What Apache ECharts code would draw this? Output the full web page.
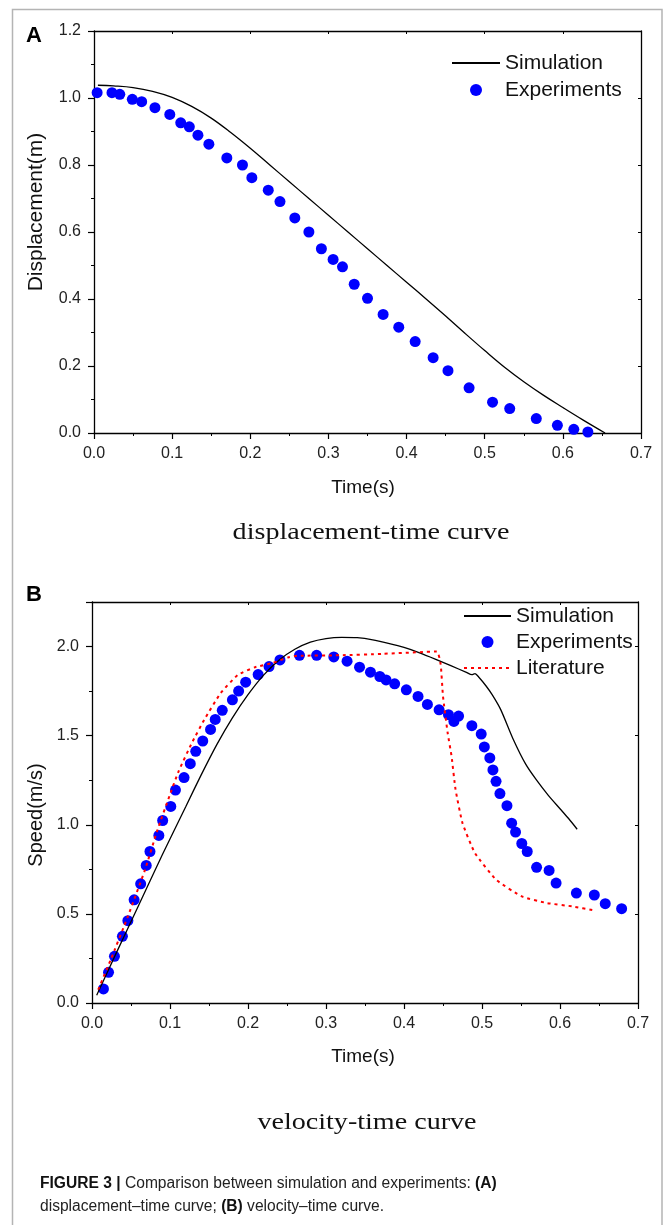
<!DOCTYPE html>
<html><head><meta charset="utf-8">
<script src="https://cdn.jsdelivr.net/npm/echarts@6/dist/echarts.min.js"></script>
<style>html,body{margin:0;padding:0;background:#fff}#c{width:665px;height:1225px}</style>
</head><body><div id="c"></div><script>
// ---------- DATA ----------
// (A) displacement-time
const dispSimTime = [0.005,0.025,0.05,0.075,0.1,0.125,0.15,0.175,0.2,0.225,0.25,0.275,0.3,0.325,0.35,0.375,0.4,0.425,0.45,0.475,0.5,0.525,0.55,0.575,0.6,0.625,0.654];
const dispSim     = [1.038,1.036,1.031,1.02,1.002,0.975,0.94,0.897,0.85,0.80,0.75,0.70,0.65,0.60,0.55,0.50,0.45,0.40,0.349,0.297,0.246,0.197,0.153,0.113,0.076,0.04,0.0];
const dispExpTime = [0.004,0.023,0.033,0.049,0.061,0.078,0.097,0.111,0.122,0.133,0.147,0.170,0.190,0.202,0.223,0.238,0.257,0.275,0.291,0.306,0.318,0.333,0.350,0.370,0.390,0.411,0.434,0.453,0.480,0.510,0.532,0.566,0.593,0.614,0.632];
const dispExp     = [1.016,1.016,1.011,0.996,0.989,0.971,0.951,0.926,0.914,0.889,0.862,0.821,0.800,0.762,0.725,0.691,0.642,0.600,0.550,0.518,0.496,0.444,0.402,0.354,0.316,0.273,0.225,0.186,0.135,0.092,0.073,0.043,0.023,0.011,0.003];
// (B) velocity-time
const velSimTime = [0.006,0.03,0.06,0.09,0.12,0.14,0.16,0.18,0.2,0.22,0.24,0.26,0.28,0.3,0.32,0.34,0.36,0.38,0.4,0.42,0.44,0.46,0.48,0.487,0.491,0.496,0.505,0.513,0.524,0.54,0.556,0.57,0.585,0.6,0.611,0.622];
const velSim     = [0.043,0.27,0.55,0.83,1.10,1.28,1.45,1.60,1.73,1.84,1.925,1.985,2.025,2.045,2.052,2.05,2.038,2.018,1.995,1.965,1.93,1.893,1.855,1.842,1.848,1.828,1.78,1.73,1.646,1.48,1.34,1.25,1.165,1.09,1.035,0.975];
const velExpTime = [0.0147,0.0212,0.0288,0.039,0.046,0.054,0.0624,0.0695,0.0743,0.0857,0.0906,0.101,0.107,0.118,0.126,0.133,0.142,0.152,0.158,0.167,0.180,0.188,0.197,0.213,0.227,0.241,0.266,0.288,0.310,0.327,0.343,0.357,0.369,0.377,0.388,0.403,0.418,0.430,0.445,0.457,0.464,0.470,0.487,0.499,0.503,0.510,0.514,0.518,0.523,0.532,0.538,0.543,0.551,0.558,0.570,0.586,0.595,0.621,0.644,0.658,0.679];
const velExp     = [0.079,0.172,0.262,0.374,0.462,0.579,0.669,0.772,0.850,0.940,1.024,1.103,1.195,1.265,1.343,1.412,1.470,1.535,1.591,1.642,1.701,1.750,1.800,1.843,1.888,1.925,1.951,1.951,1.942,1.918,1.884,1.856,1.832,1.813,1.791,1.757,1.720,1.675,1.645,1.618,1.580,1.610,1.556,1.509,1.437,1.375,1.308,1.244,1.175,1.107,1.009,0.959,0.895,0.850,0.761,0.744,0.673,0.617,0.606,0.557,0.529];
const velLitTime = [0.008,0.024,0.046,0.068,0.084,0.100,0.111,0.128,0.144,0.165,0.187,0.209,0.231,0.252,0.263,0.317,0.372,0.442,0.447,0.450,0.456,0.461,0.466,0.475,0.491,0.518,0.551,0.583,0.616,0.643];
const velLit     = [0.075,0.243,0.486,0.748,0.972,1.17,1.30,1.459,1.59,1.739,1.841,1.884,1.907,1.940,1.948,1.951,1.959,1.972,1.90,1.72,1.515,1.384,1.20,1.009,0.841,0.692,0.598,0.561,0.542,0.520];
// tick labels
const xTickLabels  = ['0.0','0.1','0.2','0.3','0.4','0.5','0.6','0.7'];
const yTickLabelsA = ['0.0','0.2','0.4','0.6','0.8','1.0','1.2'];
const yTickLabelsB = ['0.0','0.5','1.0','1.5','2.0'];
const legendA = ['Simulation','Experiments'];
const legendB = ['Simulation','Experiments','Literature'];

// ---------- CHART ----------
const FONT = '"Liberation Sans", Arial, Helvetica, sans-serif';
const SERIF = '"Liberation Serif", "Times New Roman", serif';
const zip = (a,b) => a.map((v,i)=>[v,b[i]]);
const fmt = list => v => { const s = (Math.round(v*100)/100).toFixed(1); return (list.includes(s) && Math.abs(parseFloat(s)-v)<1e-6) ? s : ''; };
const axLine = {show:true, onZero:false, lineStyle:{color:'#000', width:1.3}};
const lineOnly = {color:'rgba(0,0,0,0)', opacity:0, borderWidth:0};
const legendItems = names => names.map(n => n === 'Experiments' ? {name:n} : {name:n, itemStyle:lineOnly});

function mainX(gi){ return {gridIndex:gi, type:'value', position:'bottom', min:0, max:0.7, interval:0.1,
  axisLine:axLine, axisTick:{show:true,length:6,lineStyle:{color:'#000',width:1.2}},
  minorTick:{show:true,splitNumber:2,length:3,lineStyle:{color:'#000',width:1}},
  axisLabel:{fontSize:16,fontFamily:FONT,color:'#222',margin:13,formatter:fmt(xTickLabels)},
  splitLine:{show:false}, minorSplitLine:{show:false}}; }
function topX(gi){ return {gridIndex:gi, type:'value', position:'top', min:0, max:0.7, interval:0.1,
  axisLine:axLine, axisTick:{show:true,inside:true,length:3,lineStyle:{color:'#000',width:1}},
  minorTick:{show:false}, axisLabel:{show:false}, splitLine:{show:false}}; }
function leftY(gi,max,interval,labels,minor){ return {gridIndex:gi, type:'value', position:'left', min:0, max:max, interval:interval,
  axisLine:axLine, axisTick:{show:true,length:6,lineStyle:{color:'#000',width:1.2}},
  minorTick:{show:minor,splitNumber:2,length:3,lineStyle:{color:'#000',width:1}},
  axisLabel:{fontSize:16,fontFamily:FONT,color:'#222',margin:13,formatter:fmt(labels),showMaxLabel:true},
  splitLine:{show:false}, minorSplitLine:{show:false}}; }
function rightY(gi,max,interval){ return {gridIndex:gi, type:'value', position:'right', min:0, max:max, interval:interval,
  axisLine:axLine, axisTick:{show:true,inside:true,length:3,lineStyle:{color:'#000',width:1}},
  minorTick:{show:false}, axisLabel:{show:false}, splitLine:{show:false}}; }

const option = {
  animation:false,
  backgroundColor:'#fff',
  grid:[
    {left:94, top:31, width:547, height:402, outerBoundsMode:'none', containLabel:false},
    {left:92, top:602, width:546, height:401, outerBoundsMode:'none', containLabel:false}
  ],
  xAxis:[ mainX(0), topX(0), mainX(1), topX(1) ],
  yAxis:[
    leftY(0,1.2,0.2,yTickLabelsA,true), rightY(0,1.2,0.2),
    leftY(1,2.25,0.5,yTickLabelsB,false), rightY(1,2.25,0.5),
    {gridIndex:1, type:'value', position:'left', min:0, max:2.25, interval:0.25,
     axisLine:{show:false}, axisTick:{show:true,length:3,lineStyle:{color:'#000',width:1}},
     axisLabel:{show:false}, splitLine:{show:false}}
  ],
  legend:[
    {orient:'vertical', left:451, top:52, padding:0, itemWidth:48, itemHeight:12, itemGap:5,
     data:legendItems(legendA), selectedMode:false,
     textStyle:{fontSize:21, fontFamily:FONT, color:'#111', lineHeight:22}},
    {orient:'vertical', left:463, top:605, padding:0, itemWidth:47, itemHeight:12, itemGap:4,
     data:legendItems(legendB), selectedMode:false,
     textStyle:{fontSize:21, fontFamily:FONT, color:'#111', lineHeight:22}}
  ],
  series:[
    {name:'Experiments', type:'scatter', xAxisIndex:0, yAxisIndex:0, data:zip(dispExpTime,dispExp),
     symbol:'circle', symbolSize:11, itemStyle:{color:'#0000ff', opacity:1}, z:2},
    {name:'Simulation', type:'line', xAxisIndex:0, yAxisIndex:0, data:zip(dispSimTime,dispSim),
     symbol:'none', smooth:0.4, lineStyle:{color:'#000', width:1.3}, itemStyle:{color:'#000'}, z:3},
    {name:'Experiments', type:'scatter', xAxisIndex:2, yAxisIndex:2, data:zip(velExpTime,velExp),
     symbol:'circle', symbolSize:11, itemStyle:{color:'#0000ff', opacity:1}, z:2},
    {name:'Simulation', type:'line', xAxisIndex:2, yAxisIndex:2, data:zip(velSimTime,velSim),
     symbol:'none', smooth:0.25, lineStyle:{color:'#000', width:1.3}, itemStyle:{color:'#000'}, z:3},
    {name:'Literature', type:'line', xAxisIndex:2, yAxisIndex:2, data:zip(velLitTime,velLit),
     symbol:'none', smooth:0.15, lineStyle:{color:'#ff0000', width:2, type:[3,4]}, itemStyle:{color:'#ff0000'}, z:3}
  ],
  graphic:[
    {type:'polyline', shape:{points:[[12.5,1225],[12.5,9.5],[662,9.5],[662,1225]]},
     style:{stroke:'#b4b4b4', lineWidth:1.5, fill:null}, silent:true},
    {type:'text', x:34, y:36, style:{text:'A', font:'bold 22px '+FONT, fill:'#000', align:'center', verticalAlign:'middle'}},
    {type:'text', x:34, y:595, style:{text:'B', font:'bold 22px '+FONT, fill:'#000', align:'center', verticalAlign:'middle'}},
    {type:'text', x:36, y:212, rotation:Math.PI/2, style:{text:'Displacement(m)', font:'21px '+FONT, fill:'#111', align:'center', verticalAlign:'middle'}},
    {type:'text', x:36, y:815, rotation:Math.PI/2, style:{text:'Speed(m/s)', font:'20px '+FONT, fill:'#111', align:'center', verticalAlign:'middle'}},
    {type:'text', x:363, y:488, style:{text:'Time(s)', font:'19px '+FONT, fill:'#111', align:'center', verticalAlign:'middle'}},
    {type:'text', x:363, y:1057, style:{text:'Time(s)', font:'19px '+FONT, fill:'#111', align:'center', verticalAlign:'middle'}},
    {type:'text', x:371, y:533, scaleX:1.17, style:{text:'displacement-time curve', font:'24px '+SERIF, fill:'#111', align:'center', verticalAlign:'middle'}},
    {type:'text', x:367, y:1123, scaleX:1.17, style:{text:'velocity-time curve', font:'24px '+SERIF, fill:'#111', align:'center', verticalAlign:'middle'}},
    {type:'text', x:40, y:1184, style:{text:'{b|FIGURE 3 |} Comparison between simulation and experiments: {b|(A)}',
      font:'15.6px '+FONT, fill:'#222', align:'left', verticalAlign:'middle',
      rich:{b:{fontWeight:'bold', fontSize:15.6, fontFamily:FONT, fill:'#111'}}}},
    {type:'text', x:40, y:1207, style:{text:'displacement\u2013time curve; {b|(B)} velocity\u2013time curve.',
      font:'15.6px '+FONT, fill:'#222', align:'left', verticalAlign:'middle',
      rich:{b:{fontWeight:'bold', fontSize:15.6, fontFamily:FONT, fill:'#111'}}}}
  ]
};
const chart = echarts.init(document.getElementById('c'), null, {renderer:'canvas'});
chart.setOption(option);
</script></body></html>
